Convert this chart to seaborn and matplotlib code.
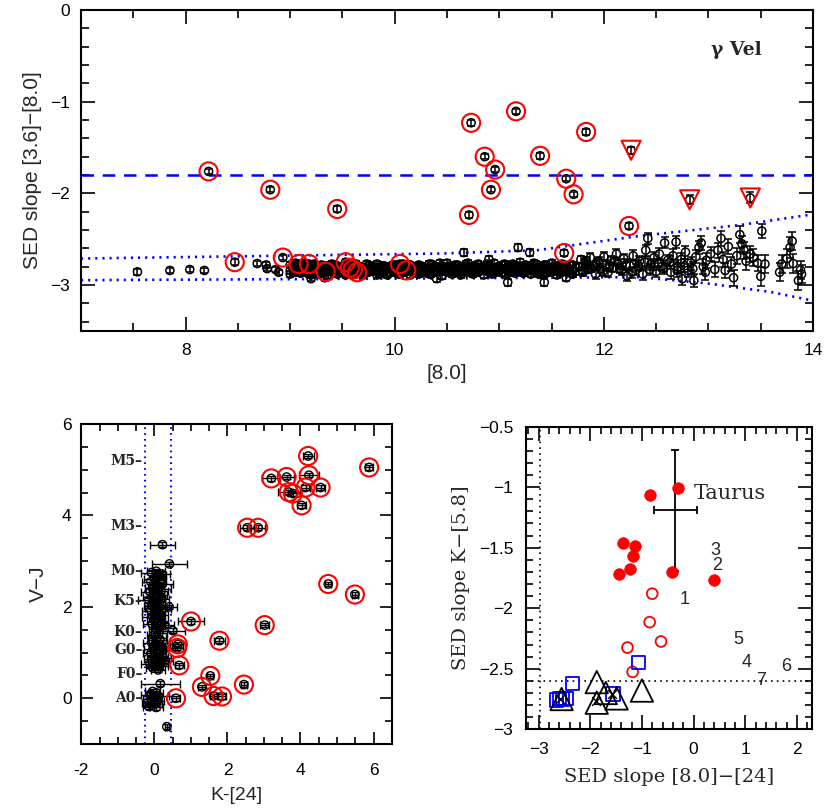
import numpy as np
import pandas as pd
import seaborn as sns
import matplotlib.pyplot as plt
from matplotlib.ticker import MultipleLocator, FuncFormatter

sns.set_style("ticks")
plt.rcParams['font.family'] = ['Liberation Sans', 'DejaVu Sans']
plt.rcParams['axes.linewidth'] = 1.5
plt.rcParams['axes.edgecolor'] = 'black'

# ---------------- top panel: [3.6]-[8.0] vs [8.0] ----------------
bright_x = [7.54, 7.85, 8.04, 8.18, 8.685, 8.77, 8.78, 8.86, 8.89, 9.20, 9.33,
            10.66, 11.08, 11.18, 11.29, 11.43, 11.64, 11.83, 10.40, 10.90]
bright_y = [-2.855, -2.84, -2.83, -2.84, -2.765, -2.78, -2.82, -2.83, -2.86, -2.93, -2.92,
            -2.645, -2.97, -2.59, -2.645, -2.97, -2.92, -2.735, -2.93, -2.72]
bright_err = [0.03, 0.03, 0.03, 0.03, 0.03, 0.03, 0.03, 0.03, 0.03, 0.03, 0.03,
              0.04, 0.04, 0.04, 0.04, 0.04, 0.04, 0.04, 0.035, 0.035]

blob_x = [9.00, 9.05, 9.10, 9.15, 9.20, 9.25, 9.30, 9.35, 9.40, 9.45, 9.50, 9.55, 9.60, 9.65,
          9.70, 9.75, 9.80, 9.85, 9.90, 9.95, 10.00, 10.05, 10.10, 10.15, 10.20, 10.25, 10.30,
          10.35, 10.40, 10.45, 10.50, 10.55, 10.60, 10.65, 10.70, 10.75, 10.80, 10.85, 10.90,
          10.95, 11.00, 11.05, 11.10, 11.15, 11.20, 11.25, 11.30, 11.35, 11.40, 11.45, 11.50,
          11.55, 11.60, 11.65, 11.70]
blob_x2 = [9.03, 9.08, 9.13, 9.18, 9.23, 9.28, 9.33, 9.38, 9.43, 9.48, 9.53, 9.58, 9.63, 9.68,
           9.73, 9.78, 9.83, 9.88, 9.93, 9.98, 10.03, 10.08, 10.13, 10.18, 10.23, 10.28, 10.33,
           10.38, 10.43, 10.48, 10.53, 10.58, 10.63, 10.68, 10.73, 10.78, 10.83, 10.88, 10.93,
           10.98, 11.03, 11.08, 11.13, 11.18, 11.23, 11.28, 11.33, 11.38, 11.43, 11.48, 11.53,
           11.58, 11.63, 11.68, 11.73]
blob_ya = [-2.78, -2.80, -2.83, -2.81, -2.84, -2.79, -2.82, -2.85, -2.80, -2.83, -2.81, -2.78,
           -2.82, -2.86, -2.81, -2.83, -2.80, -2.84, -2.79, -2.82, -2.85, -2.83, -2.81, -2.78,
           -2.82, -2.84, -2.81, -2.77, -2.80, -2.83, -2.81, -2.84, -2.78, -2.82, -2.80, -2.83,
           -2.81, -2.84, -2.78, -2.82, -2.80, -2.77, -2.81, -2.84, -2.80, -2.82, -2.79, -2.83,
           -2.80, -2.78, -2.81, -2.79, -2.82, -2.80, -2.78]
blob_yb = [-2.84, -2.76, -2.79, -2.85, -2.80, -2.86, -2.87, -2.81, -2.84, -2.88, -2.86, -2.83,
           -2.85, -2.79, -2.84, -2.78, -2.85, -2.81, -2.83, -2.87, -2.81, -2.88, -2.84, -2.83,
           -2.86, -2.79, -2.85, -2.82, -2.84, -2.79, -2.86, -2.80, -2.83, -2.87, -2.85, -2.79,
           -2.86, -2.80, -2.83, -2.76, -2.85, -2.82, -2.86, -2.78, -2.83, -2.86, -2.84, -2.77,
           -2.85, -2.83, -2.86, -2.84, -2.77, -2.85, -2.84]
blob_yc = [-2.88, -2.86, -2.87, -2.77, -2.89, -2.82, -2.78, -2.90, -2.77, -2.79, -2.84, -2.88,
           -2.80, -2.83, -2.89, -2.86, -2.82, -2.88, -2.86, -2.80, -2.78, -2.80, -2.86, -2.89,
           -2.80, -2.87, -2.83, -2.88, -2.86, -2.90, -2.76, -2.88, -2.86, -2.80, -2.76, -2.88,
           -2.77, -2.89, -2.86, -2.87, -2.83, -2.88, -2.79, -2.87, -2.75, -2.78, -2.88, -2.86,
           -2.82, -2.87, -2.76, -2.89, -2.86, -2.83, -2.88]
blob_yd = [-2.81, -2.83, -2.76, -2.88, -2.82, -2.84, -2.80, -2.78, -2.87, -2.81, -2.79, -2.85,
           -2.88, -2.81, -2.77, -2.84, -2.89, -2.79, -2.82, -2.85, -2.88, -2.77, -2.83, -2.81,
           -2.78, -2.85, -2.88, -2.80, -2.76, -2.85, -2.83, -2.78, -2.89, -2.84, -2.82, -2.81,
           -2.84, -2.77, -2.88, -2.80, -2.78, -2.85, -2.83, -2.81, -2.87, -2.80, -2.76, -2.81,
           -2.88, -2.84, -2.79, -2.82, -2.80, -2.87, -2.81]
blob_ye = [-2.86, -2.79, -2.85, -2.83, -2.77, -2.88, -2.84, -2.82, -2.79, -2.86, -2.89, -2.80,
           -2.77, -2.87, -2.85, -2.80, -2.77, -2.86, -2.89, -2.78, -2.83, -2.85, -2.78, -2.86,
           -2.88, -2.81, -2.77, -2.85, -2.82, -2.81, -2.79, -2.86, -2.81, -2.77, -2.87, -2.85,
           -2.80, -2.83, -2.81, -2.84, -2.87, -2.80, -2.77, -2.85, -2.81, -2.84, -2.82, -2.88,
           -2.78, -2.81, -2.84, -2.87, -2.84, -2.78, -2.85]

faint_x = [11.76, 11.78, 11.80, 11.82, 11.85, 11.87, 11.90, 11.92, 11.95, 11.97, 12.00, 12.02,
           12.04, 12.07, 12.09, 12.12, 12.14, 12.17, 12.19, 12.22, 12.25, 12.28, 12.31, 12.34,
           12.37, 12.40, 12.42, 12.45, 12.48, 12.50, 12.53, 12.56, 12.58, 12.61, 12.64, 12.66,
           12.69, 12.71, 12.74, 12.75, 12.78, 12.80, 12.83, 12.86, 12.88, 12.91, 12.93, 12.95,
           12.98, 13.02, 13.06, 13.09, 13.12, 13.14, 13.16, 13.19, 13.22, 13.24, 13.27, 13.30,
           13.32, 13.34, 13.36, 13.40, 13.43, 13.47, 13.50, 13.51, 13.54, 13.68, 13.70, 13.75,
           13.78, 13.80, 13.81, 13.86, 13.88, 13.89,
           11.79, 11.84, 11.88, 11.93, 11.99, 12.05, 12.10, 12.15, 12.21, 12.27, 12.33, 12.39,
           12.44, 12.52, 12.57, 12.63, 12.70, 12.77, 12.85, 12.97]
faint_y = [-2.80, -2.72, -2.86, -2.76, -2.83, -2.70, -2.79, -2.88, -2.74, -2.82, -2.69, -2.78,
           -2.86, -2.73, -2.81, -2.66, -2.77, -2.84, -2.71, -2.90, -2.79, -2.68, -2.83, -2.74,
           -2.88, -2.62, -2.49, -2.77, -2.70, -2.85, -2.66, -2.79, -2.54, -2.73, -2.86, -2.68,
           -2.53, -2.80, -2.72, -2.93, -2.64, -2.84, -2.76, -2.95, -2.69, -2.59, -2.54, -2.80,
           -2.73, -2.66, -2.83, -2.62, -2.49, -2.72, -2.84, -2.58, -2.77, -2.92, -2.68, -2.45,
           -2.55, -2.62, -2.74, -2.66, -2.70, -2.76, -2.905, -2.41, -2.77, -2.86, -2.77, -2.71,
           -2.59, -2.52, -2.765, -2.95, -2.835, -2.88,
           -2.84, -2.78, -2.82, -2.77, -2.85, -2.80, -2.74, -2.82, -2.78, -2.86, -2.79, -2.75,
           -2.83, -2.77, -2.82, -2.75, -2.84, -2.79, -2.82, -2.86]
faint_err = [0.04, 0.04, 0.04, 0.04, 0.04, 0.05, 0.04, 0.05, 0.05, 0.05, 0.05, 0.05,
             0.05, 0.05, 0.05, 0.05, 0.05, 0.05, 0.05, 0.06, 0.06, 0.06, 0.06, 0.06,
             0.06, 0.06, 0.06, 0.06, 0.06, 0.06, 0.06, 0.06, 0.06, 0.06, 0.07, 0.07,
             0.07, 0.07, 0.07, 0.07, 0.07, 0.07, 0.07, 0.07, 0.07, 0.07, 0.08, 0.08,
             0.08, 0.08, 0.08, 0.08, 0.08, 0.08, 0.08, 0.08, 0.08, 0.09, 0.09, 0.09,
             0.09, 0.09, 0.09, 0.09, 0.09, 0.09, 0.10, 0.08, 0.10, 0.10, 0.10, 0.10,
             0.11, 0.10, 0.10, 0.10, 0.10, 0.10,
             0.04, 0.04, 0.04, 0.05, 0.05, 0.05, 0.05, 0.05, 0.06, 0.06, 0.06, 0.06,
             0.06, 0.06, 0.06, 0.07, 0.07, 0.07, 0.07, 0.08]

disk_x = [8.22, 8.81, 9.45, 8.47, 8.93, 9.08, 9.18, 9.34, 9.53, 9.57, 9.60, 9.64, 10.05,
          10.11, 10.73, 11.16, 10.86, 10.96, 10.92, 10.71, 11.39, 11.83, 11.64, 11.71,
          12.24, 11.62]
disk_y = [-1.76, -1.96, -2.17, -2.75, -2.70, -2.77, -2.77, -2.855, -2.75, -2.81, -2.83,
          -2.86, -2.77, -2.84, -1.23, -1.105, -1.60, -1.74, -1.96, -2.235, -1.59, -1.33,
          -1.84, -2.01, -2.355, -2.65]
limit_x = [12.26, 12.82, 13.40]
limit_y = [-1.53, -2.07, -2.05]
limit_err = [0.04, 0.05, 0.06]

# envelope of the photospheric locus
env_x = [7.0, 10.46, 11.36, 12.34, 13.30, 14.0]
env_upper = [-2.71, -2.655, -2.62, -2.464, -2.345, -2.228]
env_low_x = [7.0, 10.5, 12.34, 12.98, 13.60, 14.0]
env_lower = [-2.946, -2.927, -2.913, -2.98, -3.076, -3.17]
excess_cut = -1.8

# ---------------- bottom left: V-J vs K-[24] ----------------
star_x = [0.05, -0.08, 0.12, 0.20, 0.00, 0.15, -0.10, 0.22, 0.05, -0.05, 0.10, 0.18, -0.12,
          0.02, 0.12, -0.02, 0.20, -0.15, 0.08, 0.00, 0.14, -0.08, 0.05, 0.22, -0.10, 0.10,
          0.00, 0.16, -0.05, 0.08, 0.02, 0.18, -0.06, 0.10, 0.04, 0.50, 0.12, -0.02, 0.06,
          0.15, -0.08, 0.02, 0.10, 0.20, -0.04, 0.08, 0.14, -0.10, 0.00, 0.12, 0.24, -0.06,
          0.06, 0.18, -0.12, 0.02, 0.14, -0.04, 0.10, 0.16, 0.41, 0.22, 0.34, -0.05, 0.05,
          -0.12, 0.10, 0.00, -0.08, 0.08, -0.20, 0.02, -0.15, 0.05, 0.40, 0.32, 0.30, 0.28]
star_y = [2.78, 2.75, 2.70, 2.72, 2.62, 2.58, 2.55, 2.50, 2.48, 2.42, 2.40, 2.35, 2.33,
          2.30, 2.25, 2.22, 2.18, 2.15, 2.12, 2.08, 2.05, 2.02, 1.98, 1.95, 1.92, 1.90,
          1.85, 1.82, 1.78, 1.75, 1.70, 1.66, 1.62, 1.58, 1.52, 1.48, 1.42, 1.38, 1.32,
          1.28, 1.22, 1.18, 1.15, 1.12, 1.08, 1.05, 1.00, 0.98, 0.95, 0.90, 0.88, 0.85,
          0.82, 0.78, 0.75, 0.72, 0.70, 0.66, 0.62, 0.32, 2.94, 3.36, -0.62, 0.15, 0.12,
          0.08, 0.05, 0.02, -0.02, -0.05, -0.10, -0.12, -0.18, -0.20, 2.00, 1.10, 0.82, 1.60]
star_xerr = [0.25, 0.30, 0.20, 0.22, 0.28, 0.18, 0.25, 0.30, 0.20, 0.22, 0.35, 0.20, 0.25,
             0.18, 0.22, 0.28, 0.20, 0.30, 0.22, 0.18, 0.25, 0.20, 0.30, 0.22, 0.25, 0.18,
             0.20, 0.22, 0.28, 0.20, 0.22, 0.18, 0.25, 0.20, 0.20, 0.35, 0.22, 0.18, 0.25,
             0.20, 0.22, 0.18, 0.20, 0.22, 0.25, 0.20, 0.18, 0.22, 0.20, 0.25, 0.20, 0.22,
             0.18, 0.20, 0.25, 0.20, 0.22, 0.18, 0.20, 0.53, 0.47, 0.35, 0.06, 0.20, 0.18,
             0.25, 0.30, 0.20, 0.22, 0.18, 0.15, 0.20, 0.15, 0.18, 0.22, 0.25, 0.22, 0.25]

exc_x = [4.21, 5.88, 3.20, 3.62, 4.23, 4.14, 4.55, 3.68, 3.79, 4.03, 2.54, 2.84, 4.76, 5.49,
         3.02, 1.00, 1.78, 1.53, 1.30, 1.62, 1.85, 2.45, 0.62, 0.64, 0.68, 0.59]
exc_y = [5.30, 5.05, 4.81, 4.84, 4.88, 4.61, 4.61, 4.51, 4.48, 4.22, 3.73, 3.73, 2.50, 2.27,
         1.60, 1.68, 1.26, 0.49, 0.25, 0.05, 0.04, 0.30, 1.10, 1.18, 0.72, 0.00]
exc_xerr = [0.15, 0.10, 0.25, 0.20, 0.27, 0.12, 0.12, 0.30, 0.12, 0.12, 0.20, 0.20, 0.08, 0.08,
            0.12, 0.35, 0.15, 0.08, 0.12, 0.10, 0.10, 0.08, 0.15, 0.15, 0.12, 0.10]
k24_lo, k24_hi = -0.27, 0.45
sptypes = ['M5', 'M3', 'M0', 'K5', 'K0', 'G0', 'F0', 'A0']
sptype_vj = [5.19, 3.77, 2.78, 2.12, 1.44, 1.05, 0.53, 0.0]

# ---------------- bottom right: K-[5.8] vs [8.0]-[24] ----------------
thick_x = [-0.84, -0.30, -1.36, -1.13, -1.165, -1.23, -1.44, -0.42, 0.39]
thick_y = [-1.064, -1.01, -1.46, -1.49, -1.57, -1.68, -1.72, -1.70, -1.77]
weak_x = [-0.80, -0.85, -0.63, -1.28, -1.18]
weak_y = [-1.88, -2.115, -2.275, -2.325, -2.526]
debris_x = [-1.07, -2.34, -1.565, -2.60, -2.47, -2.54, -2.65]
debris_y = [-2.45, -2.62, -2.71, -2.745, -2.745, -2.75, -2.756]
tri_x = [-1.875, -1.00, -1.70, -1.49, -1.875, -2.555]
tri_y = [-2.61, -2.68, -2.70, -2.745, -2.78, -2.75]
cross_x = [-1.88, -1.585, -2.58]
cross_y = [-2.77, -2.71, -2.75]
taurus_x, taurus_y = -0.355, -1.19
taurus_xerr, taurus_yerr = 0.42, 0.5
num_labels = ['1', '2', '3', '4', '5', '6', '7']
num_x = [-0.18, 0.45, 0.42, 1.02, 0.87, 1.80, 1.30]
num_y = [-1.93, -1.645, -1.52, -2.45, -2.26, -2.48, -2.60]


def style_axis(ax, xmaj, xmin, ymaj, ymin, majlen, minlen):
    ax.xaxis.set_major_locator(MultipleLocator(xmaj))
    ax.xaxis.set_minor_locator(MultipleLocator(xmin))
    ax.yaxis.set_major_locator(MultipleLocator(ymaj))
    ax.yaxis.set_minor_locator(MultipleLocator(ymin))
    ax.tick_params(which='both', direction='in', top=True, right=True,
                   width=1.2, colors='black', labelsize=12.5)
    ax.tick_params(which='major', length=majlen)
    ax.tick_params(which='minor', length=minlen)
    for s in ax.spines.values():
        s.set_visible(True)
        s.set_linewidth(1.5)


fmt_minus = FuncFormatter(lambda v, p: ('%g' % v).replace('-', '\u2212'))

fig = plt.figure(figsize=(8.3, 8.11), dpi=100)

# ---- top ----
ax1 = fig.add_axes([0.0976, 0.5919, 0.882, 0.3958])
top_x = bright_x + blob_x * 3 + blob_x2 * 2 + faint_x
top_y = bright_y + blob_ya + blob_yb + blob_yc + blob_yd + blob_ye + faint_y
top_err = bright_err + [0.035] * (3 * len(blob_x) + 2 * len(blob_x2)) + faint_err
ax1.errorbar(top_x, top_y, yerr=top_err, fmt='none', ecolor='black',
             elinewidth=1.1, capsize=2.8, capthick=1.1, zorder=2)
ax1.errorbar(disk_x + limit_x, disk_y + limit_y, yerr=[0.03] * len(disk_x) + limit_err,
             fmt='none', ecolor='black', elinewidth=1.1, capsize=2.8, capthick=1.1, zorder=2)
sns.scatterplot(x=top_x + disk_x + limit_x, y=top_y + disk_y + limit_y, ax=ax1,
                marker='o', s=34, facecolor='none', edgecolor='black', linewidth=1.1,
                zorder=3, legend=False)
sns.scatterplot(x=disk_x, y=disk_y, ax=ax1, marker='o', s=170, facecolor='none',
                edgecolor='red', linewidth=1.5, zorder=4, legend=False)
sns.scatterplot(x=limit_x, y=limit_y, ax=ax1, marker='v', s=190, facecolor='none',
                edgecolor='red', linewidth=1.5, zorder=4, legend=False)
ax1.axhline(excess_cut, color='blue', lw=1.8, dashes=(5, 3.5), zorder=1)
ax1.plot(env_x, env_upper, color='blue', lw=1.9, ls=(0, (0.8, 1.9)), zorder=1)
ax1.plot(env_low_x, env_lower, color='blue', lw=1.9, ls=(0, (0.8, 1.9)), zorder=1)
ax1.set_xlim(7, 14)
ax1.set_ylim(-3.5, 0)
style_axis(ax1, 2, 0.5, 1, 0.2, 10, 5.5)
ax1.yaxis.set_major_formatter(fmt_minus)
ax1.tick_params(axis='y', pad=8)
ax1.tick_params(axis='x', pad=9)
ax1.set_xlabel('[8.0]', fontsize=15, labelpad=4)
ax1.set_ylabel('SED slope [3.6]\u2212[8.0]', fontsize=15, labelpad=6)
ax1.text(13.02, -0.435, '\u03b3 Vel', fontsize=13.5, fontweight='bold',
         family=['DejaVu Serif'], ha='left', va='center')

# ---- bottom left ----
ax2 = fig.add_axes([0.0981, 0.0826, 0.3739, 0.3946])
ax2.axvline(k24_lo, color='blue', lw=1.5, ls=(0, (0.8, 2.0)), zorder=1)
ax2.axvline(k24_hi, color='blue', lw=1.5, ls=(0, (0.8, 2.0)), zorder=1)
ax2.errorbar(star_x + exc_x, star_y + exc_y, xerr=star_xerr + exc_xerr,
             yerr=[0.05] * (len(star_x) + len(exc_x)), fmt='none', ecolor='black',
             elinewidth=1.0, capsize=2.8, capthick=1.0, zorder=2)
sns.scatterplot(x=star_x + exc_x, y=star_y + exc_y, ax=ax2, marker='o', s=36,
                facecolor='none', edgecolor='black', linewidth=1.0, zorder=3, legend=False)
sns.scatterplot(x=exc_x, y=exc_y, ax=ax2, marker='o', s=170, facecolor='none',
                edgecolor='red', linewidth=1.5, zorder=4, legend=False)
for lab, vj in zip(sptypes, sptype_vj):
    ax2.text(-0.33, vj, lab + '\u2013', fontsize=10, fontweight='bold',
             family=['DejaVu Serif'], ha='right', va='center')
ax2.set_xlim(-2, 6.5)
ax2.set_ylim(-1, 6)
style_axis(ax2, 2, 0.5, 2, 0.5, 8.5, 5)
ax2.set_xticks([-2, 0, 2, 4, 6])
ax2.set_xticklabels(['-2', '0', '2', '4', '6'])
ax2.tick_params(axis='x', pad=14)
ax2.tick_params(axis='y', pad=7)
ax2.set_xlabel('K-[24]', fontsize=14, labelpad=6)
ax2.set_ylabel('V\u2212J', fontsize=15, labelpad=10)

# ---- bottom right ----
ax3 = fig.add_axes([0.6334, 0.1007, 0.3453, 0.3734])
ax3.axvline(-2.97, color='black', lw=1.2, ls=(0, (1, 2.5)), zorder=1)
ax3.axhline(-2.6, color='black', lw=1.2, ls=(0, (1, 2.5)), zorder=1)
ax3.errorbar(taurus_x, taurus_y, xerr=taurus_xerr, yerr=taurus_yerr, fmt='none',
             ecolor='black', elinewidth=1.3, capsize=3, capthick=1.3, zorder=2)
sns.scatterplot(x=thick_x, y=thick_y, ax=ax3, marker='o', s=70, color='red',
                edgecolor='red', linewidth=0.5, zorder=3, legend=False)
sns.scatterplot(x=weak_x, y=weak_y, ax=ax3, marker='o', s=60, facecolor='none',
                edgecolor='red', linewidth=1.3, zorder=3, legend=False)
sns.scatterplot(x=debris_x, y=debris_y, ax=ax3, marker='s', s=95, facecolor='none',
                edgecolor='blue', linewidth=1.3, zorder=3, legend=False)
sns.scatterplot(x=tri_x, y=tri_y, ax=ax3, marker='^', s=260, facecolor='none',
                edgecolor='black', linewidth=1.3, zorder=3, legend=False)
sns.scatterplot(x=cross_x, y=cross_y, ax=ax3, marker='x', s=40, color='black',
                linewidth=1.0, zorder=3, legend=False)
for lab, nx, ny in zip(num_labels, num_x, num_y):
    ax3.text(nx, ny, lab, fontsize=13, ha='center', va='center')
ax3.text(0.0, -1.05, 'Taurus', fontsize=15, family=['DejaVu Serif'], ha='left', va='center')
ax3.set_xlim(-3.25, 2.3)
ax3.set_ylim(-3, -0.5)
style_axis(ax3, 1, 0.2, 0.5, 0.1, 10, 5)
ax3.xaxis.set_major_formatter(fmt_minus)
ax3.yaxis.set_major_formatter(fmt_minus)
ax3.tick_params(axis='both', pad=9)
ax3.set_xlabel('SED slope [8.0]\u2212[24]', fontsize=14, family=['DejaVu Serif'], labelpad=8)
ax3.set_ylabel('SED slope K\u2212[5.8]', fontsize=14, family=['DejaVu Serif'], labelpad=6)

fig.savefig('out.png', dpi=100)
